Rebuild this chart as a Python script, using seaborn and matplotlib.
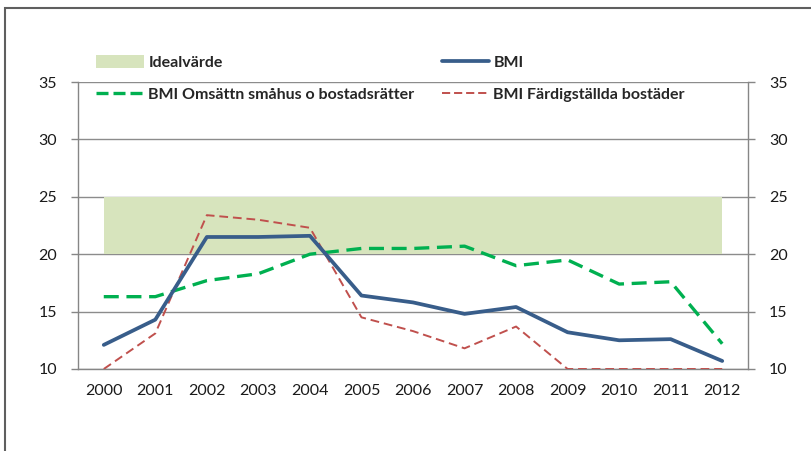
import matplotlib
matplotlib.use("Agg")
import matplotlib.pyplot as plt
from matplotlib.patches import Rectangle, Patch
from matplotlib.lines import Line2D
import seaborn as sns

years = [2000, 2001, 2002, 2003, 2004, 2005, 2006, 2007, 2008, 2009, 2010, 2011, 2012]
bmi = [12.1, 14.3, 21.5, 21.5, 21.6, 16.4, 15.8, 14.8, 15.4, 13.2, 12.5, 12.6, 10.7]
bmi_omsattn = [16.3, 16.3, 17.7, 18.3, 20.0, 20.5, 20.5, 20.7, 19.0, 19.5, 17.4, 17.6, 12.2]
bmi_fardig = [10.0, 13.1, 23.4, 23.0, 22.3, 14.5, 13.3, 11.8, 13.7, 10.0, 10.0, 10.0, 10.0]
ideal_low, ideal_high = 20, 25
yticks = [10, 15, 20, 25, 30, 35]

sns.set_style("white")
plt.rcParams['font.family'] = ['Lato', 'DejaVu Sans']

fig = plt.figure(figsize=(8.11, 4.51), dpi=100)
ax = fig.add_axes([78 / 811, 1 - 369 / 451, 670 / 811, 287 / 451])

ax.fill_between(years, ideal_low, ideal_high, color="#d7e4bd", linewidth=0, zorder=1)
sns.lineplot(x=years, y=bmi_omsattn, ax=ax, color="#00b050", linewidth=2.4,
             linestyle=(0, (4.5, 2.3)), zorder=3)
sns.lineplot(x=years, y=bmi_fardig, ax=ax, color="#c0504d", linewidth=1.4,
             linestyle=(0, (4.5, 2.5)), zorder=3)
sns.lineplot(x=years, y=bmi, ax=ax, color="#385d8a", linewidth=2.7, zorder=4)

ax.set_xlim(1999.5, 2012.5)
ax.set_ylim(10, 35)
ax.set_yticks(yticks)
ax.set_xticks(years)
ax.set_xticklabels([str(y) for y in years])
ax.set_xticks([y - 0.5 for y in years] + [2012.5], minor=True)
ax.tick_params(axis="x", which="major", length=0, pad=11, labelsize=11.5, colors="#1a1a1a")
ax.tick_params(axis="x", which="minor", length=5, width=1, color="#868686", direction="out")
ax.tick_params(axis="y", length=5, width=1, color="#868686", direction="out",
               labelsize=11.5, pad=10, labelcolor="#1a1a1a")
ax.grid(axis="y", color="#8c8c8c", linewidth=1, zorder=0)
ax.grid(axis="x", visible=False)
for s in ["left", "right", "bottom"]:
    ax.spines[s].set_color("#868686")
    ax.spines[s].set_linewidth(1)
ax.spines["top"].set_visible(False)
ax.set_xlabel("")
ax.set_ylabel("")

ax2 = ax.twinx()
ax2.set_ylim(10, 35)
ax2.set_yticks(yticks)
ax2.tick_params(axis="y", length=5, width=1, color="#868686", direction="out",
                labelsize=11.5, pad=10, labelcolor="#1a1a1a")
for s in ["left", "right", "bottom", "top"]:
    ax2.spines[s].set_visible(False)
ax2.grid(False)

handles = [
    Patch(facecolor="#d7e4bd", edgecolor="none"),
    Line2D([], [], color="#00b050", linewidth=2.4, linestyle=(0, (3.6, 1.5))),
    Line2D([], [], color="#385d8a", linewidth=2.7),
    Line2D([], [], color="#c0504d", linewidth=1.4, linestyle=(0, (4.2, 2.0))),
]
labels = ["Idealvärde", "BMI Omsättn småhus o bostadsrätter", "BMI", "BMI Färdigställda bostäder"]
fig.legend(handles, labels, ncol=2, frameon=False, loc="upper left",
           bbox_to_anchor=(90 / 811, 1 - 49 / 451), prop={"weight": "bold", "size": 11.5},
           handlelength=2.95, handleheight=0.8, handletextpad=0.3,
           columnspacing=1.7, labelspacing=1.06, borderaxespad=0)

fig.add_artist(Rectangle((5 / 811, -0.1), 1.2, 1 - 8 / 451 + 0.1, transform=fig.transFigure,
                         fill=False, edgecolor="#5f5f5f", linewidth=1.5, clip_on=False))

fig.savefig("out.png", dpi=100)
